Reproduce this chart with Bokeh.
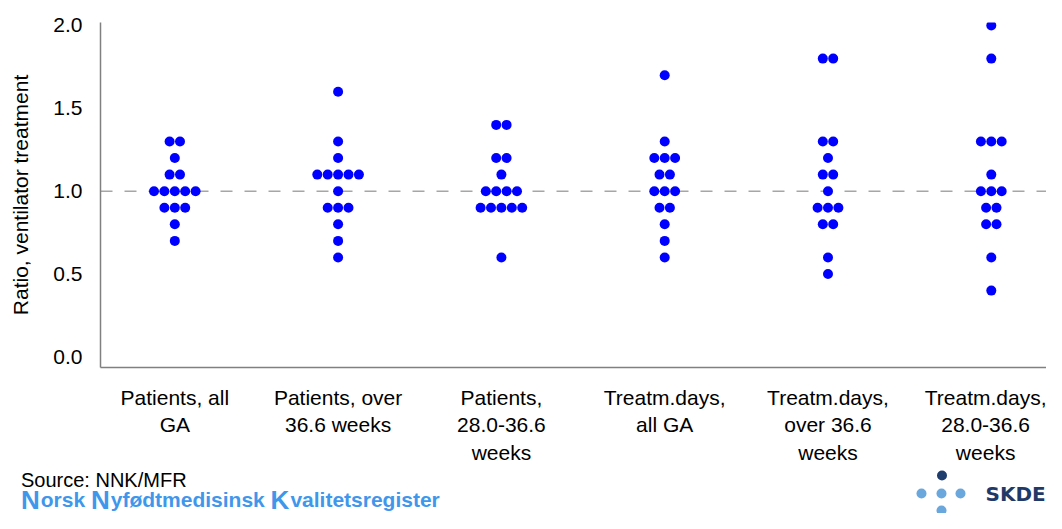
from collections import Counter

from bokeh.plotting import figure
from bokeh.models import Range1d, FixedTicker, Span, Label
from bokeh.layouts import column
from bokeh.embed import file_html
from bokeh.resources import INLINE

# ---------------- data ----------------
categories = [
    "Patients, all\nGA",
    "Patients, over\n36.6 weeks",
    "Patients,\n28.0-36.6\nweeks",
    "Treatm.days,\nall GA",
    "Treatm.days,\nover 36.6\nweeks",
    "Treatm.days,\n28.0-36.6\nweeks",
]
patients_all_ga = [1.3, 1.3, 1.2, 1.1, 1.1, 1.0, 1.0, 1.0, 1.0, 1.0, 0.9, 0.9, 0.9, 0.8, 0.7]
patients_over_36 = [1.6, 1.3, 1.2, 1.1, 1.1, 1.1, 1.1, 1.1, 1.0, 0.9, 0.9, 0.9, 0.8, 0.7, 0.6]
patients_28_36 = [1.4, 1.4, 1.2, 1.2, 1.1, 1.0, 1.0, 1.0, 1.0, 0.9, 0.9, 0.9, 0.9, 0.9, 0.6]
days_all_ga = [1.7, 1.3, 1.2, 1.2, 1.2, 1.1, 1.1, 1.0, 1.0, 1.0, 0.9, 0.9, 0.8, 0.7, 0.6]
days_over_36 = [1.8, 1.8, 1.3, 1.3, 1.2, 1.1, 1.1, 1.0, 0.9, 0.9, 0.9, 0.8, 0.8, 0.6, 0.5]
days_28_36 = [2.0, 1.8, 1.3, 1.3, 1.3, 1.1, 1.0, 1.0, 1.0, 0.9, 0.9, 0.8, 0.8, 0.6, 0.4]
series = [patients_all_ga, patients_over_36, patients_28_36,
          days_all_ga, days_over_36, days_28_36]
y_ticks = [0.0, 0.5, 1.0, 1.5, 2.0]
reference_line = 1.0

# ---------------- layout constants ----------------
W = 1046
H_MAIN = 466
H_FOOT = 47
BORDER_L, BORDER_T, BORDER_B = 100, 22, 88
PX_PER_CAT = 163.3
PX_PER_UNIT = 171.0
DOT_STEP = 10.4
FONT = "Liberation Sans"

frame_w = W - BORDER_L
frame_h = H_MAIN - BORDER_T - BORDER_B
x0 = 0.545
y0 = -0.064

# beeswarm layout: equal values in a category are spread side by side
xs, ys = [], []
for i, vals in enumerate(series, start=1):
    counts = Counter(vals)
    seen = Counter()
    for v in vals:
        n = counts[v]
        k = seen[v]
        seen[v] += 1
        off = (k - (n - 1) / 2) * DOT_STEP / PX_PER_CAT
        xs.append(i + off)
        ys.append(v)

p = figure(width=W, height=H_MAIN,
           x_range=Range1d(x0, x0 + frame_w / PX_PER_CAT),
           y_range=Range1d(y0, y0 + frame_h / PX_PER_UNIT),
           output_backend="svg", toolbar_location=None,
           min_border_left=BORDER_L, min_border_right=0,
           min_border_top=BORDER_T, min_border_bottom=BORDER_B)
p.frame_align = False
p.outline_line_color = None
p.xgrid.grid_line_color = None
p.ygrid.grid_line_color = None

p.add_layout(Span(location=reference_line, dimension="width", line_color="#a6a6a6",
                  line_width=1.5, line_dash="12 12", level="underlay"))

p.scatter(xs, ys, size=10, color="#0000ff", line_color=None)

xa = p.xaxis[0]
xa.ticker = FixedTicker(ticks=list(range(1, len(categories) + 1)))
xa.major_label_overrides = {i + 1: c for i, c in enumerate(categories)}
xa.major_tick_line_color = None
xa.minor_tick_line_color = None
xa.axis_line_color = "#808080"
xa.axis_line_width = 1.5
xa.major_label_text_font = FONT
xa.major_label_text_font_size = "21px"
xa.major_label_text_color = "#000000"
xa.major_label_standoff = 12

ya = p.yaxis[0]
ya.ticker = FixedTicker(ticks=y_ticks)
ya.major_label_overrides = {t: f"{t:.1f}" for t in y_ticks}
ya.major_tick_line_color = None
ya.minor_tick_line_color = None
ya.axis_line_color = "#808080"
ya.axis_line_width = 1.5
ya.major_label_text_font = FONT
ya.major_label_text_font_size = "21px"
ya.major_label_text_color = "#000000"
ya.major_label_standoff = 12
ya.axis_label = "Ratio, ventilator treatment"
ya.axis_label_text_font = FONT
ya.axis_label_text_font_size = "21px"
ya.axis_label_text_font_style = "normal"
ya.axis_label_text_color = "#000000"
ya.axis_label_standoff = 18

# ---------------- footer ----------------
f = figure(width=W, height=H_FOOT, x_range=Range1d(0, W), y_range=Range1d(0, H_FOOT),
           output_backend="svg", toolbar_location=None, min_border=0)
f.frame_align = False
f.xaxis.visible = False
f.yaxis.visible = False
f.xgrid.grid_line_color = None
f.ygrid.grid_line_color = None
f.outline_line_color = None

f.add_layout(Label(x=20.5, y=34, text="Source: NNK/MFR", text_font=FONT,
                   text_font_size="20px", text_color="#000000", text_baseline="middle"))

# register name with enlarged initials (Arial-compatible bold advance widths)
BOLD_W = {"N": .722, "K": .722, "o": .611, "r": .389, "s": .556, "k": .556, "y": .556,
          "f": .333, "ø": .611, "d": .611, "t": .333, "m": .889, "e": .556, "i": .278,
          "n": .611, "v": .556, "a": .556, "l": .278, "g": .611, " ": .278}
blue = "#3f97ec"
CAP, LOW = 26, 21
pieces = [("N", CAP), ("orsk ", LOW), ("N", CAP), ("yfødtmedisinsk ", LOW),
          ("K", CAP), ("valitetsregister", LOW)]
cx = 20.5
for txt, fs in pieces:
    f.add_layout(Label(x=cx, y=14, text=txt.strip(), text_font=FONT, text_font_size=f"{fs}px",
                       text_font_style="bold", text_color=blue, text_baseline="alphabetic"))
    cx += sum(BOLD_W[c] for c in txt) * fs + (1 if fs == CAP else 0)

f.scatter([941.5], [38], size=10, color="#1f3e6e", line_color=None)
f.scatter([921, 941, 960, 941], [20, 20, 20, 3], size=10, color="#6aa7dd", line_color=None)
f.add_layout(Label(x=985, y=20, text="SKDE", text_font="DejaVu Sans", text_font_size="20px",
                   text_font_style="bold", text_color="#1f3a68", text_baseline="middle"))

layout = column(p, f, spacing=0)
open("out.html", "w").write(file_html(layout, INLINE))
